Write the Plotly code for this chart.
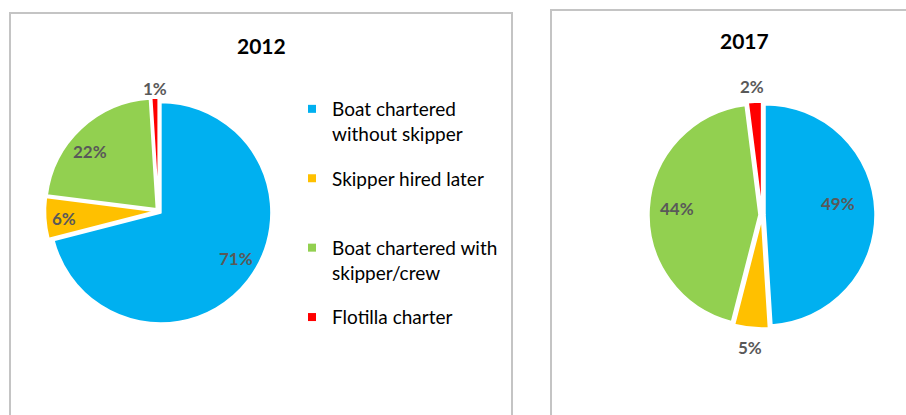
import math
import plotly.graph_objects as go

W, H = 906, 415

categories = ["Boat chartered without skipper", "Skipper hired later",
              "Boat chartered with skipper/crew", "Flotilla charter"]
legend_labels = ["Boat chartered<br>without skipper", "Skipper hired later<br> ",
                 "Boat chartered with<br>skipper/crew", "Flotilla charter<br> "]
values_2012 = [71, 6, 22, 1]
values_2017 = [49, 5, 44, 2]
years = ["2012", "2017"]
colors = ["#00B0F0", "#FFC000", "#92D050", "#FF0000"]

FONT = "Lato"
TXT = "#595959"
PULL = 0.025
R = 110.5

# per-pie layout: centre (px), label radius factors, position of label along the slice
pies = [
    dict(year=years[0], values=values_2012, cx=158.5, cy=211,
         rfac=[0.82, 0.86, 0.82, 1.11], along=[0.475, 0.47, 0.425, 0.5], tx=261, ty=45),
    dict(year=years[1], values=values_2017, cx=762, cy=215,
         rfac=[0.70, 1.2, 0.77, 1.166], along=[0.46, 0.49, 0.506, 0.39], tx=744, ty=41),
]

fig = go.Figure()
for p in pies:
    half = R * (1 + PULL)
    dom = dict(x=[(p["cx"] - half) / W, (p["cx"] + half) / W],
               y=[1 - (p["cy"] + half) / H, 1 - (p["cy"] - half) / H])
    fig.add_trace(go.Pie(
        labels=categories, values=p["values"], sort=False, direction="clockwise",
        rotation=0, pull=PULL, marker=dict(colors=colors, line=dict(color="white", width=2)),
        textinfo="none", domain=dom, showlegend=False, name=p["year"],
        hoverinfo="label+percent"))
    total = sum(p["values"])
    cum = 0
    for v, rf, al in zip(p["values"], p["rfac"], p["along"]):
        theta = 2 * math.pi * (cum + al * v) / total
        cum += v
        x = p["cx"] + rf * R * math.sin(theta)
        y = p["cy"] - rf * R * math.cos(theta)
        fig.add_annotation(text=f"<b>{v}%</b>", x=x / W, y=1 - y / H, xref="paper", yref="paper",
                           xanchor="center", yanchor="middle", showarrow=False,
                           font=dict(family=FONT, size=17, color=TXT))
    fig.add_annotation(text=f"<b>{p['year']}</b>", x=p["tx"] / W, y=1 - p["ty"] / H,
                       xref="paper", yref="paper", xanchor="center", yanchor="middle",
                       showarrow=False, font=dict(family=FONT, size=21, color="black"))

# legend entries
for lab, col, name in zip(legend_labels, colors, categories):
    fig.add_trace(go.Scatter(x=[None], y=[None], mode="markers", name=lab,
                             legendgroup=name, hoverinfo="skip",
                             marker=dict(symbol="square", size=8, color=col)))

# panel frames
fig.add_shape(type="rect", xref="paper", yref="paper",
              x0=10 / W, x1=512 / W, y0=-0.05, y1=1 - 13 / H,
              line=dict(color="#C4C4C4", width=2))
fig.add_shape(type="rect", xref="paper", yref="paper",
              x0=551 / W, x1=1.05, y0=-0.05, y1=1 - 10 / H,
              line=dict(color="#C4C4C4", width=2))

fig.update_layout(
    width=W, height=H, margin=dict(l=0, r=0, t=0, b=0),
    paper_bgcolor="white", plot_bgcolor="white",
    xaxis=dict(visible=False), yaxis=dict(visible=False),
    legend=dict(x=292 / W, y=1 - 90 / H, xanchor="left", yanchor="top",
                font=dict(family=FONT, size=19, color="black"),
                valign="top", bgcolor="rgba(0,0,0,0)", itemwidth=30,
                tracegroupgap=17, itemclick=False, itemdoubleclick=False),
)

fig.write_html("out.html")
